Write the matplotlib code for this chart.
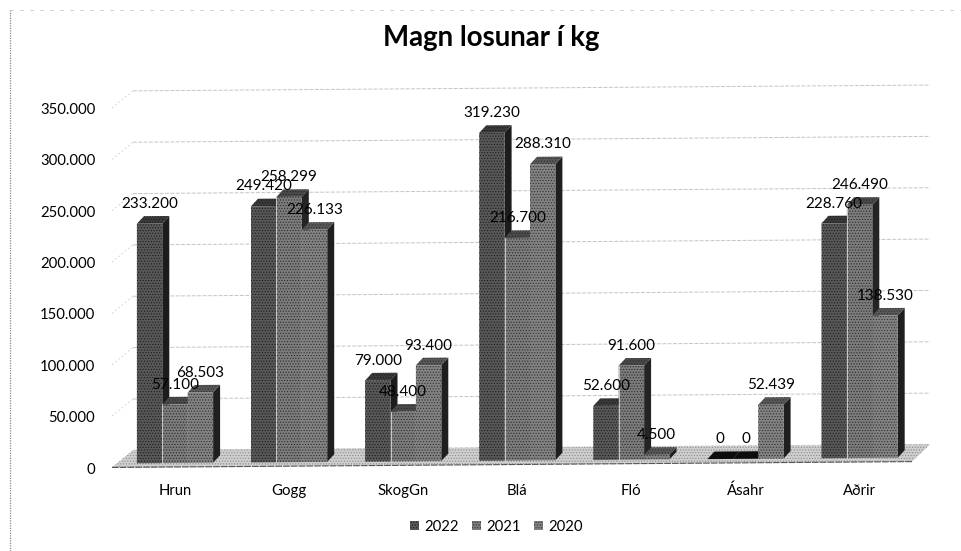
import matplotlib
matplotlib.use("Agg")
import matplotlib.pyplot as plt
from matplotlib.patches import Polygon, Patch
from matplotlib.transforms import Affine2D, ScaledTranslation

categories = ["Hrun", "Gogg", "SkogGn", "Blá", "Fló", "Ásahr", "Aðrir"]
series_names = ["2022", "2021", "2020"]
v2022 = [233200, 249420, 79000, 319230, 52600, 0, 228760]
v2021 = [57100, 258299, 48400, 216700, 91600, 0, 246490]
v2020 = [68503, 226133, 93400, 288310, 4500, 52439, 138530]
y_ticks = [0, 50000, 100000, 150000, 200000, 250000, 300000, 350000]
y_tick_labels = ["0", "50.000", "100.000", "150.000", "200.000", "250.000", "300.000", "350.000"]
title = "Magn losunar í kg"

plt.rcParams["font.family"] = ["Lato", "DejaVu Sans"]
plt.rcParams["hatch.linewidth"] = 0.5

W, H = 962, 551
fig = plt.figure(figsize=(W / 100, H / 100), dpi=100, facecolor="white")

# pixel geometry of the plot
AX_L, AX_R, AX_T, AX_B = 100, 940, 80, 472
X0, DX = 175.0, 114.1       # px of the first category, px per category
Y0 = 463.0                  # px of value zero at the first category
PY = 1.027 / 1000           # px per unit
ax = fig.add_axes([AX_L / W, 1 - AX_B / H, (AX_R - AX_L) / W, (AX_B - AX_T) / H])
ax.set_xlim((AX_L - X0) / DX, (AX_R - X0) / DX)
ax.set_ylim((Y0 - AX_B) / PY, (Y0 - AX_T) / PY)
for s in ax.spines.values():
    s.set_visible(False)
ax.patch.set_alpha(0)

ux, uy = 1 / DX, 1 / PY     # data units per px
k = (5 / 6) * uy            # the scanned page rises slightly to the right
tr = Affine2D.from_values(1, k, 0, 1, 0, 0) + ax.transData

# back wall, side wall and floor
bx0, bx1 = (133 - X0) * ux, (930 - X0) * ux
fx0, fx1 = (112 - X0) * ux, (912 - X0) * ux
by, fy = 13 * uy, -4 * uy
ax.add_patch(Polygon([(fx0, fy), (fx1, fy), (bx1, by), (bx0, by)], closed=True, transform=tr,
                     facecolor="#cfcfcf", edgecolor="#8a8a8a", hatch="......", lw=0, zorder=1))
ax.plot([fx0, fx1], [fy, fy], transform=tr, color="#555555", lw=0.8, ls=(0, (6, 1)), zorder=1.5)
for t in y_ticks:
    ax.plot([bx0, bx1], [t + by, t + by], transform=tr, color="#c4c4c4", lw=0.7,
            ls=(0, (4, 1.5)), zorder=0.5)
    ax.plot([fx0, bx0], [t + fy, t + by], transform=tr, color="#cccccc", lw=0.6,
            ls=(0, (2, 3)), zorder=0.5)

# bars with simulated depth
BW = 25.4 * ux
DEPX, DEPY = 7 * ux, 7.5 * uy
front = ["#585858", "#7c7c7c", "#828282"]
hatchc = ["#1c1c1c", "#2a2a2a", "#303030"]
top_c = ["#3a3a3a", "#4a4a4a", "#585858"]
side_c = ["#1c1c1c", "#242424", "#1f1f1f"]
values = [v2022, v2021, v2020]
z = 2.0
for c in range(len(categories)):
    for s, vals in enumerate(values):
        x = c + (s - 1) * BW
        v = vals[c]
        l, r = x - BW / 2, x + BW / 2
        if v > 0:
            ax.bar(x, v, BW, color=front[s], edgecolor=hatchc[s], hatch="......", lw=0,
                   transform=tr, zorder=z + 0.1)
        ax.add_patch(Polygon([(r, 0), (r + DEPX, DEPY), (r + DEPX, v + DEPY), (r, v)], closed=True,
                             transform=tr, facecolor=side_c[s], edgecolor="none", zorder=z))
        tc = top_c[s] if v > 0 else "#0d0d0d"
        ax.add_patch(Polygon([(l, v), (r, v), (r + DEPX, v + DEPY), (l + DEPX, v + DEPY)], closed=True,
                             transform=tr, facecolor=tc, edgecolor=hatchc[s] if v > 0 else "none",
                             hatch="......" if v > 0 else None, lw=0, zorder=z))
        if s == 1 and v > 0:
            ax.plot([l, l], [0, v], transform=tr, color="#d8d8d8", lw=0.6, zorder=z + 0.2)
        z += 0.3

# data labels
for c in range(len(categories)):
    for s, vals in enumerate(values):
        x = c + (s - 1) * BW
        v = vals[c]
        txt = f"{v:,}".replace(",", ".")
        ax.annotate(txt, (x, v), xycoords=tr, xytext=(0, 14.2), textcoords="offset points",
                    ha="center", va="center", fontsize=11, color="black", zorder=50, annotation_clip=False)

# axes ticks
ax.set_yticks(y_ticks, y_tick_labels)
ax.set_xticks(range(len(categories)), categories)
ax.tick_params(axis="both", length=0, labelsize=10.7, colors="black")
ax.tick_params(axis="y", pad=3.5)
ax.tick_params(axis="x", pad=8.5)
for lab in ax.get_yticklabels():
    lab.set_transform(lab.get_transform() + ScaledTranslation(0, -5 / 100, fig.dpi_scale_trans))

fig.text(491 / W, 1 - 38 / H, title, ha="center", va="center", fontsize=19.9, fontweight="bold", color="black")

handles = [Patch(facecolor=front[i], edgecolor=hatchc[i], hatch="......", lw=0) for i in range(3)]
fig.legend(handles, series_names, loc="center", bbox_to_anchor=(496 / W, 1 - 527 / H), ncol=3, frameon=False,
           fontsize=10.7, handlelength=0.6, handleheight=0.6, handletextpad=0.35, columnspacing=0.9)

# scanned page frame
fig.add_artist(plt.Line2D([10 / W, 10 / W], [0, 1 - 10 / H], color="#8a8a8a", lw=0.9, ls=(0, (1, 1))))
fig.add_artist(plt.Line2D([10 / W, 962 / W], [1 - 10 / H, 1 - 10 / H], color="#c4c4c4", lw=0.6, ls=(0, (4, 8))))

fig.savefig("out.png", dpi=100)
